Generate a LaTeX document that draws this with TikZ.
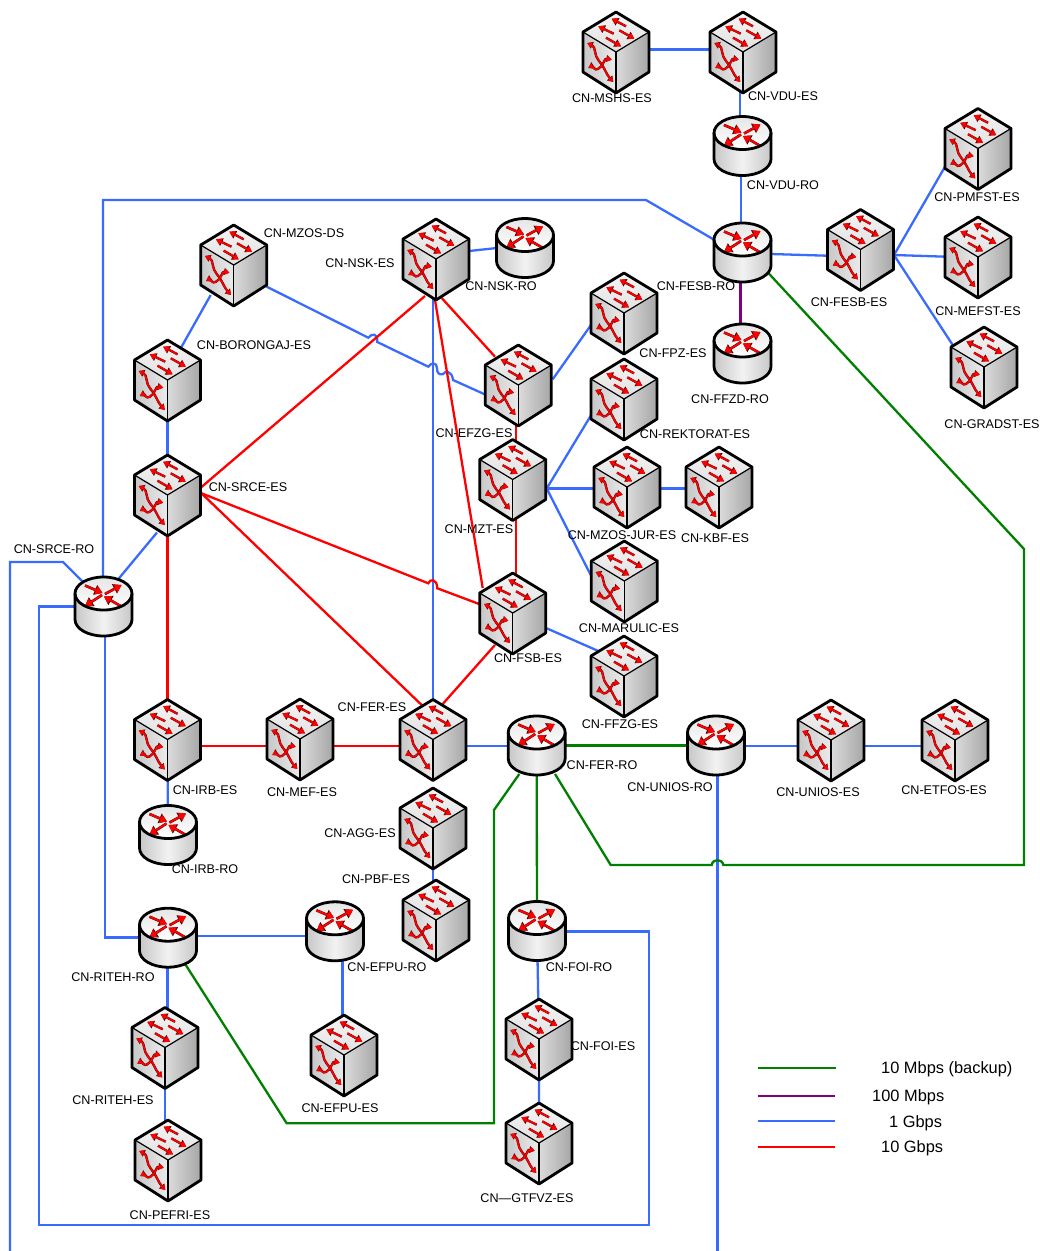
\documentclass[tikz,border=0pt]{standalone}
\usepackage{fontspec}
\setmainfont{Liberation Sans}
\usetikzlibrary{arrows.meta,calc}
\definecolor{lblue}{HTML}{3A6BFF}
\definecolor{lgreen}{HTML}{007F00}
\definecolor{lpurple}{HTML}{800080}
\newcommand{\rarw}[2]{%
  \draw[black!70!red,line width=2.3pt,-{Triangle[length=6.6pt,width=8pt]}] #1 -- #2;
  \draw[red,line width=1.7pt,-{Triangle[length=5.6pt,width=6.6pt]}] #1 -- #2;}
\newcommand{\rarwb}[2]{%
  \draw[black!80!red,line width=2.6pt,-{Triangle[length=8pt,width=10pt]}] #1 -- #2;
  \draw[red,line width=2pt,-{Triangle[length=7pt,width=8.6pt]}] #1 -- #2;}
\newcommand{\rcrv}[1]{%
  \draw[black!70!red,line width=2.3pt,{Triangle[length=5.5pt,width=7pt]}-{Triangle[length=5.5pt,width=7pt]}] #1;
  \draw[red,line width=1.6pt,{Triangle[length=4.8pt,width=5.6pt]}-{Triangle[length=4.8pt,width=5.6pt]}] #1;}
\tikzset{
  dev/.style={inner sep=0pt,minimum size=1pt,outer sep=0pt},
  lbl/.style={inner sep=0pt,font=\fontsize{12.6}{14}\selectfont},
  leg/.style={inner sep=0pt,font=\fontsize{16.4}{18}\selectfont},
  blue link/.style={draw=lblue,line width=2.3pt},
  red link/.style={draw=red,line width=2.3pt},
  green link/.style={draw=lgreen,line width=2.3pt},
  purple link/.style={draw=lpurple,line width=2.2pt},
  switchicon/.pic={
    \shade[left color=black!14,middle color=black!3,right color=black!35] (0,0)--(33,-20)--(33,20)--(0,41)--cycle;
    \shade[left color=black!22,right color=black!8] (0,0)--(-33,-20)--(-33,20)--(0,41)--cycle;
    \shade[top color=black!4,bottom color=black!12] (0,0)--(33,-20)--(0,-40)--(-33,-20)--cycle;
    \draw[black,line width=1.2pt] (-33,-20)--(0,0)--(33,-20);
    \draw[black,line width=1.2pt] (0,0)--(0,41);
    \rarw{(10,-25.7)}{(-4.3,-33.3)}
    \rarw{(-2.3,-18.3)}{(-17.7,-25.7)}
    \rarw{(3.3,-21.7)}{(18.3,-13.3)}
    \rarw{(-10,-14.3)}{(5,-5.7)}
    \rcrv{(-28.7,-9) .. controls (-20,-5) and (-22,4) .. (-17,9) .. controls (-12,14) and (-10,22) .. (-2.7,30)}
    \rcrv{(-4.3,7.7) .. controls (-12,6) and (-12,14) .. (-18,17) .. controls (-21,19) and (-24,14) .. (-27.7,16)}
    \draw[black,line width=2.8pt,line join=round] (0,-40)--(33,-20)--(33,20)--(0,41)--(-33,20)--(-33,-20)--cycle;
  },
  routericon/.pic={
    \shade[left color=black!22,right color=black!22,middle color=black!5]
      (-28.5,-13)--(-28.5,13) arc[start angle=180,end angle=360,x radius=28.5pt,y radius=16.5pt]--(28.5,-13)--cycle;
    \shade[top color=black!10,bottom color=white] (0,-13) ellipse[x radius=28.5pt,y radius=16.5pt];
    \rarwb{(-18.5,-21)}{(-1,-13.5)}
    \rarwb{(1.5,-12.5)}{(18,-21.5)}
    \rarwb{(-1.5,-11.5)}{(-18.5,-0.5)}
    \rarwb{(18,0)}{(0.5,-10)}
    \draw[black,line width=2.8pt] (0,-13) ellipse[x radius=28.5pt,y radius=16.5pt];
    \draw[black,line width=2.8pt,line join=round]
      (-28.5,-13)--(-28.5,13) arc[start angle=180,end angle=360,x radius=28.5pt,y radius=16.5pt]--(28.5,-13);
  }
}
\begin{document}
\begin{tikzpicture}[x=1pt,y=-1pt]
\useasboundingbox (0,0) rectangle (1040,1251);
% devices
\foreach \n/\x/\y in {MSHS/616/52,VDU/743/52,PMFST/978/148.5,MEFST/978/257,GRADST/984/367,FESB/860.5/249.5,
  MZOSDS/233.7/265,NSK/436/259,FPZ/624/313,EFZG/518.3/385,REKTORAT/624/399,MZT/512.7/479.5,MZOSJUR/627/487,
  KBF/719/487,MARULIC/624.3/581,FFZG/624/676,FSB/512.7/613,BORONGAJ/167.5/380,SRCE/167.5/495,IRB/167.5/739.5,
  MEF/300/739,FER/433/739.5,AGG/433/828,PBF/436/920,UNIOS/831/740,ETFOS/955/740,RITEH/165/1047.5,
  PEFRI/168/1160,EFPU/344/1055,FOI/539/1039,GTFVZ/539/1143,
  VDURO/742.5/146,FESBRO/742.5/252.5,FFZDRO/742.5/353.5,NSKRO/525/248,SRCERO/103.5/606.5,FERRO/536.7/745.5,
  UNIOSRO/716/745.5,IRBRO/168/835,RITEHRO/168/937.7,EFPURO/335/931.3,FOIRO/537/931}
  {\node[dev] (\n) at (\x,\y) {};}
% free ends and ports
\foreach \n/\x/\y in {pA/10/1251,pB/717.5/1251,
  pMzIn/490/396.7,pMzOut/266.7/286.7,pMzB/210.7/295,pBorT/180.7/348.3,
  pFesbFan/894/255,pFesbA/771/254,pFesbB/827/255.7,pPm/946/165,pMe/946/256.7,pGr/952.7/345,
  pFerIn/555/774,pFerOut/519.3/774,pRitehG/184.3/962.7,pFesbG/767.7/272.3,
  pSrceTop/85/584,pSrceUp/103/580,pSrceDown/105/632,pSrceL/76/606.5,pRitehL/142/937.5,
  pFesbBack/718/242,pFoiR/562/931.5,pSrceB/118/579.5,pSrceC/157/532.5,
  pMztFan/546.7/488.5,pRek/593/412,pJur/594/488.5,pMar/590.7/575,pKbf/686/488.5,
  pFsbO/546.7/628.3,pFfz/598.3/651,pFpzA/552.7/379.3,pFpzB/591/325,
  pNskA/469/251,pNskB/497/248,pNskV/433/298,pFerV/433/702,
  pNskL/425/296,pSrceR/201.5/487,pSrceS/201.5/493.3,pNskD/435/300,pFsbD/482.7/588,
  pNskR/441.7/298,pEfzD/495/356.7,pFsbL/480/604.3,pFerL/421.7/705,pFsbB/495/645,pFerR/442.7/704,
  pRedA/516/425,pRedB/516/441,pRedC/516/519,pRedD/516/575,
  pIrbR/200/746,pMefL/268/746,pMefR/332/746,pFerW/400/746,pFerE/466/746,pFerO/510/746,
  pUniA/744/746,pUniB/798/746,pUniC/864/746,pUniD/922/746,
  pMsA/649/49.5,pMsB/710/49.5,pVdA/740/90,pVdB/740/118,pVdC/741/174,pVdD/741/225,
  pRtA/196/936,pRtB/307/936,pEfA/342.5/960,pEfB/342.5/1016,
  pRiA/167.5/966,pRiB/167.5/1010,pRiC/165/1088,pRiD/165/1122,
  pAgA/433/865,pAgB/433/890,pPuA/740.5/280,pPuB/740.5/326}
  {\coordinate (\n) at (\x,\y);}
% blue
\draw[blue link] (pMsA)--(pMsB);
\draw[blue link] (pVdA)--(pVdB);
\draw[blue link] (pVdC)--(pVdD);
\draw[blue link] (pFesbA)--(pFesbB);
\draw[blue link] (pFesbFan)--(pPm);
\draw[blue link] (pFesbFan)--(pMe);
\draw[blue link] (pFesbFan)--(pGr);
\draw[blue link] (pFesbBack)--(646,200)--(103,200)--(pSrceUp);
\draw[blue link] (pNskA)--(pNskB);
\draw[blue link] (pMzB)--(pBorT);
\draw[blue link] (BORONGAJ.center)--(SRCE.center);
\draw[blue link] (pSrceC)--(pSrceB);
\draw[blue link] (pMzOut)--(368.3,337.7) .. controls (372,333) and (378,333) .. (377.3,342)--(428.3,366.7)
  .. controls (431,362.5) and (437,362) .. (437,368) .. controls (437,373) and (439,375) .. (442.7,374.3)
  .. controls (445,370.5) and (452,370.5) .. (453,380)--(pMzIn);
\draw[blue link] (pNskV)--(pFerV);
\draw[blue link] (pFpzA)--(pFpzB);
\draw[blue link] (pMztFan)--(pRek);
\draw[blue link] (pMztFan)--(pJur);
\draw[blue link] (MZOSJUR.center |- pKbf)--(pKbf);
\draw[blue link] (pMztFan)--(pMar);
\draw[blue link] (pFsbO)--(pFfz);
\draw[blue link] (pFerE)--(pFerO);
\draw[blue link] (pUniA)--(pUniB);
\draw[blue link] (pUniC)--(pUniD);
\draw[blue link] (pSrceDown)--(105,937.5)--(pRitehL);
\draw[blue link] (IRB.center)--(IRBRO.center);
\draw[blue link] (pAgA)--(pAgB);
\draw[blue link] (pRtA)--(pRtB);
\draw[blue link] (pEfA)--(pEfB);
\draw[blue link] (pRiA)--(pRiB);
\draw[blue link] (pRiC)--(pRiD);
\draw[blue link] (FOIRO.center)--(FOI.center)--(GTFVZ.center);
\draw[blue link] (pFoiR)--(649,931.5)--(649,1225)--(39,1225)--(39,606.5)--(pSrceL);
\draw[blue link] (pSrceTop)--(63,562)--(10,562)--(pA);
\draw[blue link] (pUniA -| pB)--(pB);
% red
\draw[red link] (pNskR)--(pEfzD);
\draw[red link] (pRedA)--(pRedB);
\draw[red link] (pRedC)--(pRedD);
\draw[red link] (pNskL)--(pSrceR);
\draw[red link] (pNskD)--(pFsbD);
\draw[red link] (pSrceS)--(428.3,583.3) .. controls (430,578.5) and (437,578.5) .. (437.3,588.3)--(pFsbL);
\draw[red link] (pSrceS)--(pFerL);
\draw[red link] (SRCE.center)--(IRB.center);
\draw[red link] (pIrbR)--(pMefL);
\draw[red link] (pMefR)--(pFerW);
\draw[red link] (pFsbB)--(pFerR);
% green
\draw[green link] (pFesbG)--(1024,549)--(1024,865)--(723.3,865)
  .. controls (722.5,858.5) and (712.5,858.5) .. (711.7,865)--(610.7,865)--(pFerIn);
\draw[green link] (FERRO.center)--(UNIOSRO.center);
\draw[green link] (FERRO.center)--(FOIRO.center);
\draw[green link] (pFerOut)--(494,810)--(494,1123.3)--(286.7,1123.3)--(pRitehG);
% purple
\draw[purple link] (pPuA)--(pPuB);
% icons
\foreach \n in {MSHS,VDU,PMFST,MEFST,GRADST,FESB,MZOSDS,NSK,FPZ,EFZG,REKTORAT,MZT,MZOSJUR,KBF,MARULIC,FFZG,FSB,BORONGAJ,SRCE,IRB,MEF,FER,AGG,PBF,UNIOS,ETFOS,RITEH,PEFRI,EFPU,FOI,GTFVZ}
  {\pic at (\n.center) {switchicon};}
\foreach \n in {VDURO,FESBRO,FFZDRO,NSKRO,SRCERO,FERRO,UNIOSRO,IRBRO,RITEHRO,EFPURO,FOIRO}
  {\pic at (\n.center) {routericon};}
% labels
\foreach \i/\x/\y/\t in {1/612/98/CN-MSHS-ES,2/783/96/CN-VDU-ES,3/783/185/CN-VDU-RO,4/977/197/CN-PMFST-ES,
  5/849/302/CN-FESB-ES,6/978/311/CN-MEFST-ES,7/992/424/CN-GRADST-ES,8/696/286/CN-FESB-RO,9/730/399/CN-FFZD-RO,
  10/304/233/CN-MZOS-DS,11/360/263/CN-NSK-ES,12/501/286/CN-NSK-RO,13/673/353/CN-FPZ-ES,14/254/345/CN-BORONGAJ-ES,
  15/474/433/CN-EFZG-ES,16/695/434/CN-REKTORAT-ES,17/248/487/CN-SRCE-ES,18/479/529/CN-MZT-ES,19/622/535/CN-MZOS-JUR-ES,
  20/715/538/CN-KBF-ES,21/54/549/CN-SRCE-RO,22/629/628/CN-MARULIC-ES,23/528/658/CN-FSB-ES,24/620/724/CN-FFZG-ES,
  25/372/707/CN-FER-ES,26/205/790/CN-IRB-ES,27/302/792/CN-MEF-ES,28/602/765/CN-FER-RO,29/670/787/CN-UNIOS-RO,
  30/818/792/CN-UNIOS-ES,31/944/790/CN-ETFOS-ES,32/360/833/CN-AGG-ES,33/205/869/CN-IRB-RO,34/376/879/CN-PBF-ES,
  35/113/977/CN-RITEH-RO,36/387/967/CN-EFPU-RO,37/579/967/CN-FOI-RO,38/603/1046/CN-FOI-ES,39/113/1100/CN-RITEH-ES,
  40/340/1108/CN-EFPU-ES,41/170/1215/CN-PEFRI-ES,42/527/1198/CN—GTFVZ-ES}
  {\node[lbl] (lab\i) at (\x,\y) {\t};}
% legend
\coordinate (g1) at (758,1068); \coordinate (g2) at (836,1068);
\coordinate (p1) at (758,1096); \coordinate (p2) at (835,1096);
\coordinate (b1) at (758,1121); \coordinate (b2) at (835,1121);
\coordinate (r1) at (758,1147); \coordinate (r2) at (835,1147);
\draw[green link] (g1)--(g2);
\draw[purple link] (p1)--(p2);
\draw[blue link] (b1)--(b2);
\draw[red link] (r1)--(r2);
\node[leg,anchor=west] (lg1) at (881,1069) {10 Mbps (backup)};
\node[leg,anchor=west] (lg2) at (872,1097) {100 Mbps};
\node[leg,anchor=west] (lg3) at (889,1123) {1 Gbps};
\node[leg,anchor=west] (lg4) at (881,1148) {10 Gbps};
\end{tikzpicture}
\end{document}
